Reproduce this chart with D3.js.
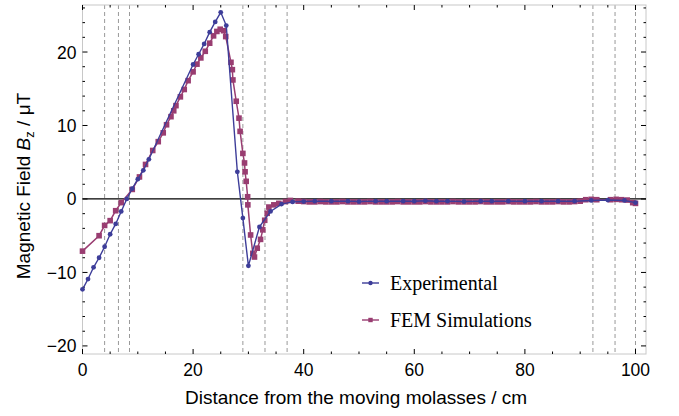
<!DOCTYPE html>
<html>
<head>
<meta charset="utf-8">
<script src="https://cdn.jsdelivr.net/npm/d3@7"></script>
<style>
  body { margin: 0; background: #fff; }
  svg { display: block; }
</style>
</head>
<body>
<div id="chart"></div>
<script>
// Experimental data (cm, µT)
const expX = [0, 1, 2, 3, 4, 5, 6, 7, 8, 9, 10, 11, 12,
  20, 21, 22, 23, 24, 25, 26, 28, 29, 30, 32, 34, 36,
  38, 40, 42, 45, 48, 50, 53, 55, 58, 60, 62, 64, 66, 69, 72, 74, 77, 80, 83, 86, 89, 92, 95, 98, 100];
const expY = [-12.3, -10.9, -9.3, -8.0, -6.5, -4.8, -3.4, -1.7, 0.0, 1.4, 2.7, 3.9, 5.4,
  18.3, 19.7, 21.1, 22.7, 24.1, 25.4, 23.6, 3.7, -2.6, -9.1, -3.8, -1.7, -0.7,
  -0.4, -0.35, -0.3, -0.3, -0.3, -0.35, -0.3, -0.3, -0.3, -0.3, -0.25, -0.3, -0.3, -0.35, -0.3, -0.3, -0.3, -0.3, -0.3, -0.3, -0.3, -0.2, -0.15, -0.2, -0.5];

// FEM simulation data
const femX = [0, 3, 4, 5, 6, 7, 9, 10.3, 11.4, 12.7, 13.7, 14.6, 15.2, 16, 16.5, 16.9, 17.7, 18.4, 19.1, 20,
  20.7, 21.4, 22.2, 23, 23.7, 24.3, 24.9, 25.5, 25.9, 26.85, 27.1, 27.2, 27.8, 28.3, 28.5, 29, 29.3, 29.4,
  29.6, 29.86, 29.9, 30.4, 30.8, 31.1, 31.6, 32.2, 32.6, 32.95, 33.4, 33.7, 34.6, 35.5, 36.7, 37.6,
  39, 40, 41, 42, 43, 44, 45, 46, 47, 48, 49, 50, 51, 52, 53, 54, 55, 56, 57, 58, 59, 60,
  61, 62, 63, 64, 65, 66, 67, 68, 69, 70, 71, 72, 73, 74, 75, 76, 77, 78, 79, 80,
  81, 82, 83, 84, 85, 86, 87, 88, 89, 90, 91, 92, 93, 95.5, 96.5, 97.5, 98.5, 99.5, 100];
const femY = [-7.1, -5.0, -3.6, -2.95, -1.6, -0.5, 1.3, 3.0, 4.7, 6.6, 7.8, 9.0, 10.1, 11.2, 12.0, 12.7, 13.9, 14.9, 16.1, 17.3,
  18.35, 19.2, 20.1, 21.2, 22.2, 22.8, 23.1, 22.9, 22.1, 18.6, 17.6, 16.2, 13.3, 11.0, 9.2, 6.2, 4.9, 3.7,
  2.4, 0.3, -0.8, -4.9, -7.4, -7.9, -6.7, -5.5, -4.2, -2.9, -1.95, -1.1, -0.8, -0.6, -0.35, -0.2,
  -0.3, -0.35, -0.4, -0.4, -0.35, -0.4, -0.4, -0.4, -0.35, -0.4, -0.4, -0.4, -0.4, -0.35, -0.4, -0.4, -0.4, -0.4, -0.35, -0.4, -0.4, -0.4,
  -0.4, -0.35, -0.4, -0.4, -0.4, -0.4, -0.35, -0.4, -0.4, -0.4, -0.4, -0.35, -0.4, -0.4, -0.4, -0.4, -0.35, -0.4, -0.4, -0.4,
  -0.4, -0.35, -0.4, -0.4, -0.4, -0.35, -0.4, -0.4, -0.35, -0.3, -0.1, -0.05, -0.1, -0.1, -0.05, -0.1, -0.15, -0.5, -0.6];

// dashed guide positions (cm)
const guideX = [0, 4, 6.5, 8.5, 29, 33, 37, 92.3, 96.3, 100];

const xTicks = [0, 20, 40, 60, 80, 100];
const yTicks = [-20, -10, 0, 10, 20];

const W = 679, H = 416;
const pLeft = 82.5, pRight = 646, pTop = 5, pBottom = 354;

const blue = "#3d3d99", magenta = "#993d71";

const x = d3.scaleLinear().domain([0, 101.9]).range([pLeft, pRight]);
const y = d3.scaleLinear().domain([-21.1, 26.4]).range([pBottom, pTop]);

const svg = d3.select("#chart").append("svg")
    .attr("width", W)
    .attr("height", H)
    .style("font-family", "'Liberation Sans', Arial, sans-serif");

// guide lines
svg.selectAll(".guide")
  .data(guideX)
  .enter().append("line")
    .attr("x1", d => x(d)).attr("x2", d => x(d))
    .attr("y1", pTop).attr("y2", pBottom)
    .attr("stroke", "#999")
    .attr("stroke-width", 1)
    .attr("stroke-dasharray", "4,3");

// frame
svg.append("rect")
    .attr("x", pLeft).attr("y", pTop)
    .attr("width", pRight - pLeft).attr("height", pBottom - pTop)
    .attr("fill", "none")
    .attr("stroke", "#c8c8c8")
    .attr("stroke-width", 1);

// ticks (inward on all sides)
const xMinor = d3.range(0, 101, 5).filter(v => v % 20 !== 0);
const yMinor = d3.range(-20, 27, 2).filter(v => v % 10 !== 0);
const major = 5, minor = 2.5;

function xt(vals, len) {
  vals.forEach(v => {
    svg.append("line").attr("x1", x(v)).attr("x2", x(v)).attr("y1", pBottom).attr("y2", pBottom - len)
      .attr("stroke", "#000").attr("stroke-width", 1);
    svg.append("line").attr("x1", x(v)).attr("x2", x(v)).attr("y1", pTop).attr("y2", pTop + len)
      .attr("stroke", "#000").attr("stroke-width", 1);
  });
}
function yt(vals, len) {
  vals.forEach(v => {
    svg.append("line").attr("x1", pLeft).attr("x2", pLeft + len).attr("y1", y(v)).attr("y2", y(v))
      .attr("stroke", "#000").attr("stroke-width", 1);
    svg.append("line").attr("x1", pRight).attr("x2", pRight - len).attr("y1", y(v)).attr("y2", y(v))
      .attr("stroke", "#000").attr("stroke-width", 1);
  });
}
xt(xTicks, major); xt(xMinor, minor);
yt(yTicks, major); yt(yMinor, minor);

// tick labels
svg.selectAll(".xl")
  .data(xTicks)
  .enter().append("text")
    .attr("x", d => x(d)).attr("y", pBottom + 22)
    .attr("text-anchor", "middle")
    .attr("font-size", 17.5)
    .text(d => d);

svg.selectAll(".yl")
  .data(yTicks)
  .enter().append("text")
    .attr("x", pLeft - 6).attr("y", d => y(d) + 6.5)
    .attr("text-anchor", "end")
    .attr("font-size", 17.5)
    .text(d => d < 0 ? "\u2212" + Math.abs(d) : d);

// zero line
svg.append("line")
    .attr("x1", pLeft).attr("x2", pRight)
    .attr("y1", y(0)).attr("y2", y(0))
    .attr("stroke", "#000").attr("stroke-width", 1.2);

// series
const expData = expX.map((v, i) => [v, expY[i]]);
const femData = femX.map((v, i) => [v, femY[i]]);
const line = d3.line().x(d => x(d[0])).y(d => y(d[1]));

svg.append("path").datum(femData)
    .attr("d", line).attr("fill", "none")
    .attr("stroke", magenta).attr("stroke-width", 1.5);
svg.selectAll(".fem")
  .data(femData)
  .enter().append("rect")
    .attr("x", d => x(d[0]) - 2.8).attr("y", d => y(d[1]) - 2.8)
    .attr("width", 5.6).attr("height", 5.6)
    .attr("fill", magenta);

svg.append("path").datum(expData)
    .attr("d", line).attr("fill", "none")
    .attr("stroke", blue).attr("stroke-width", 1.4);
svg.selectAll(".exp")
  .data(expData)
  .enter().append("circle")
    .attr("cx", d => x(d[0])).attr("cy", d => y(d[1]))
    .attr("r", 2.4)
    .attr("fill", blue);

// legend
const legend = [
  {name: "Experimental", color: blue, shape: "circle", y: 283},
  {name: "FEM Simulations", color: magenta, shape: "square", y: 320}
];
legend.forEach(l => {
  svg.append("line").attr("x1", 362).attr("x2", 379).attr("y1", l.y).attr("y2", l.y)
    .attr("stroke", l.color).attr("stroke-width", 1.4);
  if (l.shape === "circle") {
    svg.append("circle").attr("cx", 370.5).attr("cy", l.y).attr("r", 2.2).attr("fill", l.color);
  } else {
    svg.append("rect").attr("x", 368.3).attr("y", l.y - 2.2).attr("width", 4.4).attr("height", 4.4).attr("fill", l.color);
  }
  svg.append("text").attr("x", 390).attr("y", l.y + 7)
    .attr("font-family", "'Liberation Serif', 'Times New Roman', serif")
    .attr("font-size", 20)
    .text(l.name);
});

// axis titles
svg.append("text")
    .attr("x", 356).attr("y", 404)
    .attr("text-anchor", "middle")
    .attr("font-size", 19)
    .text("Distance from the moving molasses / cm");

const yl = svg.append("text")
    .attr("transform", "translate(30,186) rotate(-90)")
    .attr("text-anchor", "middle")
    .attr("font-size", 19);
yl.append("tspan").text("Magnetic Field ");
yl.append("tspan").attr("font-style", "italic").text("B");
yl.append("tspan").attr("font-size", 13).attr("dy", 4).text("z");
yl.append("tspan").attr("dy", -4).text(" / \u03bcT");
</script>
</body>
</html>
